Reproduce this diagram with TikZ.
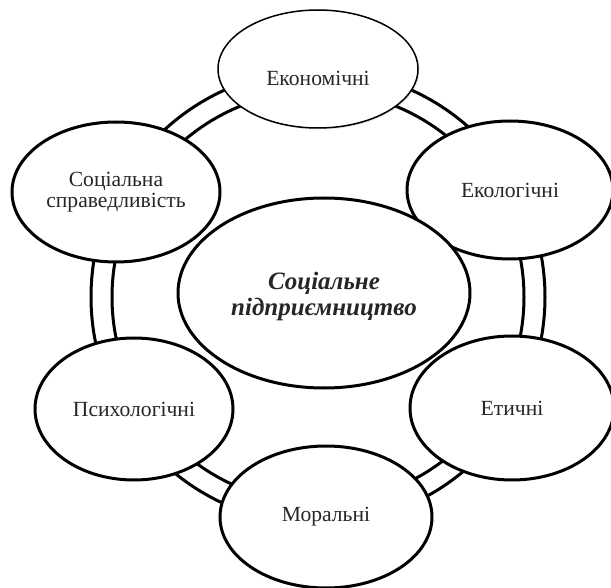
\documentclass[tikz,border=0pt]{standalone}
\usepackage{fontspec}
\setmainfont{Liberation Serif}
\usetikzlibrary{shapes.geometric, shadows}
\definecolor{txtgray}{HTML}{262626}

\begin{document}
\begin{tikzpicture}[x=1pt, y=-1pt,
    ovalbox/.style={ellipse, draw=black, line width=3pt, fill=white, inner sep=0pt,
      text=txtgray, align=center, font=\fontsize{21.6}{21}\selectfont},
    ringline/.style={draw=black, line width=3pt}]
  \useasboundingbox (0,0) rectangle (611,588);
  % double ring behind the ovals
  \coordinate (ringc) at (318,297);
  \draw[ringline] (ringc) circle[radius=227pt];
  \draw[ringline] (ringc) circle[radius=206pt];
  % outer ovals
  \node[ovalbox, minimum width=200pt, minimum height=118pt, line width=1.5pt,
    drop shadow={opacity=0.18, shadow xshift=1.5pt, shadow yshift=-1.5pt}] (econ) at (318,69)
    {\raisebox{-9pt}[\height][\depth]{Економічні}};
  \node[ovalbox, minimum width=206pt, minimum height=138pt] (ekol) at (510,190) {Екологічні};
  \node[ovalbox, minimum width=204pt, minimum height=144pt] (etych) at (512,408) {Етичні};
  \node[ovalbox, minimum width=212pt, minimum height=142pt] (moral) at (326,517) {Моральні};
  \node[ovalbox, minimum width=198pt, minimum height=142pt] (psych) at (134,409) {Психологічні};
  \node[ovalbox, minimum width=208pt, minimum height=140pt] (sprav) at (116,192) {Соціальна\\справедливість};
  % centre
  \node[ovalbox, minimum width=292pt, minimum height=190pt,
    font=\fontsize{25}{26}\selectfont\bfseries\itshape] (centr) at (324,293)
    {\raisebox{-4pt}[\height][\depth]{\begin{tabular}{@{}c@{}}Соціальне\\підприємництво\end{tabular}}};
\end{tikzpicture}
\end{document}
